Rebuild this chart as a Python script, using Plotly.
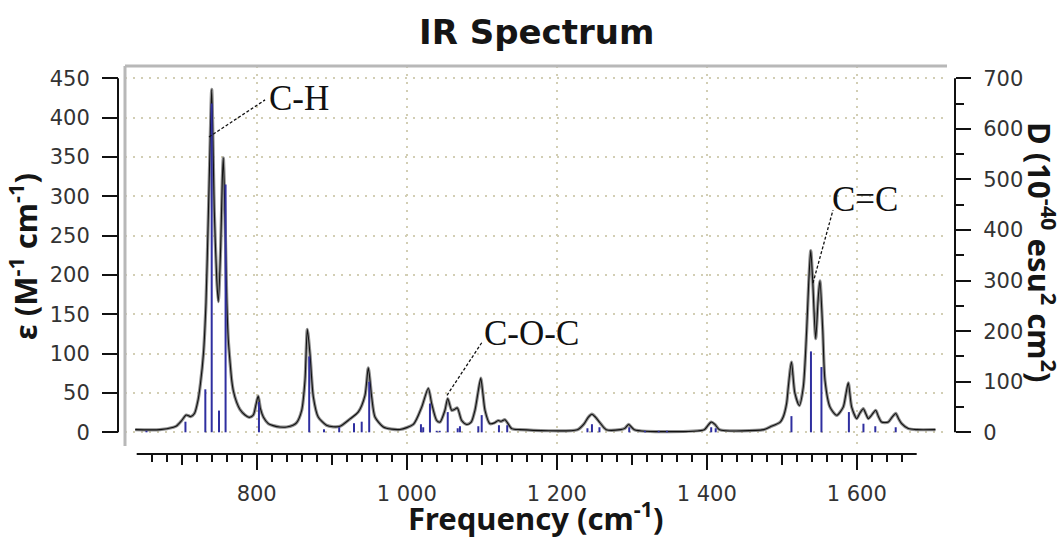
import plotly.graph_objects as go

# ---------------- data ----------------
curve_freq = [638, 671, 689, 693, 700, 706, 712, 717, 722, 725, 729, 732.4, 735.5, 737.7, 740,
              743.5, 746.7, 748.8, 752, 754.1, 755.5, 758.1, 760, 762.1, 764.4, 766.7, 768.8,
              773.3, 777.7, 784.4, 790, 795.5, 799, 802, 805, 809, 815.5, 822, 831, 840, 848.4,
              853, 860, 864.4, 867.5, 871, 875.5, 882, 893, 902, 911, 924.4, 935.5, 944.4, 948.8,
              953.3, 957.7, 968.8, 980, 991, 1008.8, 1020, 1028.8, 1033.3, 1040, 1044.4, 1051,
              1054.7, 1060, 1063.5, 1067.5, 1073.3, 1080, 1086, 1091, 1095, 1098.7, 1101.5,
              1104.4, 1111, 1117, 1122, 1126, 1131, 1140, 1151, 1227.6, 1236.7, 1242, 1247, 1252,
              1257, 1266, 1285, 1290.8, 1296, 1303.5, 1396.8, 1401, 1406, 1411, 1417, 1476,
              1484.4, 1498, 1502, 1506.5, 1508.8, 1513, 1517.5, 1523.5, 1528.8, 1533.3, 1536,
              1538.7, 1541.3, 1545.3, 1548.8, 1551, 1554.7, 1557.7, 1564.4, 1573.3, 1582, 1585.5,
              1588.8, 1593.3, 1600, 1604, 1608.8, 1612, 1615.5, 1620, 1625.3, 1629, 1633.3, 1642,
              1647, 1652, 1656, 1660, 1668.8, 1680, 1705]
curve_eps = [3.4, 3.4, 6.5, 8, 15, 22, 20, 24, 42, 62, 100, 165, 275, 360, 436,
             280, 195, 166, 236, 320, 349, 257, 172, 118, 90, 66, 53,
             38, 29, 22, 19, 22, 35, 46, 30, 19, 11, 8.5, 6.7, 6.8, 9,
             12, 28, 66, 131, 100, 45, 19.5, 9, 7, 7.6, 17, 26, 47, 82,
             45, 19.5, 6.8, 4, 3.6, 10, 32, 56, 36.5, 15, 13, 28,
             43, 28, 29, 31, 15, 10, 13, 28, 50, 69, 50,
             28, 11, 12, 15, 14, 16, 4.7, 3.4, 3.4, 11, 19, 23, 19,
             13, 3.4, 3.4, 5, 10, 3.4, 3.4, 8, 13, 10, 3.4, 3.4,
             6.8, 13, 19.5, 36.5, 57.6, 89.4, 50, 34, 57.6, 130, 190,
             231, 193, 119, 172, 192.5, 130, 66, 32, 21.6, 32, 48,
             63, 32, 17.4, 24, 30, 24, 17.4, 22, 28, 20, 13, 13,
             19, 24, 17, 11, 4.7, 3.4, 3.4]

stick_freq = [653, 705, 731.5, 740, 749.7, 758.5, 803, 870, 889.7, 910, 929.7, 940, 950,
              1019, 1022, 1031, 1040, 1044, 1054.7, 1068, 1071, 1095.5, 1100, 1123, 1134,
              1241, 1247, 1257, 1296.7, 1317.7, 1336, 1347, 1406, 1412,
              1513, 1539, 1553, 1589.6, 1609, 1624.8, 1652]
stick_D = [3, 21, 85, 650, 43, 490, 60, 150, 6, 10, 18, 21, 100,
           16, 10, 57, 3, 3, 40, 8, 12, 12, 34, 14, 14,
           8, 16, 10, 10, 3, 3, 3, 10, 8,
           32, 160, 129, 40, 17, 12, 10]

x_major_ticks = [800, 1000, 1200, 1400, 1600]
x_major_text = ["800", "1 000", "1 200", "1 400", "1 600"]
x_mid_ticks = [700, 900, 1100, 1300, 1500]
x_minor_ticks = list(range(660, 1661, 20))
y_left_ticks = list(range(0, 451, 50))
y_right_ticks = list(range(0, 701, 100))
y_right_minor = list(range(50, 651, 100))

band_labels = ["C-H", "C-O-C", "C=C"]
band_label_x = [813.7, 1100.4, 1564.4]
band_label_y = [424.9, 125.0, 295.4]
leader_x0 = [736.4, 1053.7, 1541.7]
leader_y0 = [375.4, 47.0, 189.7]
leader_x1 = [811.1, 1100.4, 1568.4]
leader_y1 = [422.5, 114.4, 282.5]

# ---------------- layout geometry ----------------
W, H = 1063, 545
ML, MR, MT, MB = 118, 108, 66, 91
PW = W - ML - MR
PH = H - MT - MB


def px_x(px):
    return (px - ML) / PW


def px_y(py):
    return (H - MB - py) / PH


XDOM = [px_x(125), px_x(947)]
YDOM = [px_y(446), 1.0]
XR = [624.4, 1720.4]
YR = [-17.4, 465.6]
RATIO = 700.0 / 450.0
Y2R = [YR[0] * RATIO, YR[1] * RATIO]

GRID = "#d2ceb4"
AX = "#111111"
TICKFONT = dict(family="DejaVu Sans", size=21, color="#333333")

# ---------------- traces ----------------
sx, sy = [], []
for f, d in zip(stick_freq, stick_D):
    sx += [f, f, None]
    sy += [0, d, None]

fig = go.Figure()
fig.add_trace(go.Scatter(x=curve_freq, y=curve_eps, mode="lines",
                         line=dict(color="#8f8f8f", width=3.2, shape="spline", smoothing=0.7),
                         hoverinfo="skip", showlegend=False))
fig.add_trace(go.Scatter(x=sx, y=sy, mode="lines", yaxis="y2",
                         line=dict(color="#2f2fa0", width=2), hoverinfo="skip",
                         showlegend=False))
fig.add_trace(go.Scatter(x=curve_freq, y=curve_eps, mode="lines",
                         line=dict(color="#111111", width=1.1, shape="spline", smoothing=0.7),
                         name="IR", showlegend=False))
# helper (invisible) so the secondary x axis with mid ticks is drawn
fig.add_trace(go.Scatter(x=[x_mid_ticks[0]], y=[0], xaxis="x2", mode="markers",
                         marker=dict(opacity=0), hoverinfo="skip", showlegend=False))

shapes = [
    dict(type="line", xref="x", yref="paper", x0=640, x1=1680, y0=0, y1=0,
         line=dict(color=AX, width=2)),
    dict(type="line", xref="paper", yref="y", x0=0, x1=0, y0=0, y1=450,
         line=dict(color=AX, width=2)),
    dict(type="line", xref="paper", yref="y2", x0=1, x1=1, y0=0, y1=700,
         line=dict(color=AX, width=2)),
    dict(type="line", xref="paper", yref="paper", x0=XDOM[0], x1=XDOM[1], y0=1, y1=1,
         line=dict(color="#b8b8b8", width=3)),
    dict(type="line", xref="paper", yref="paper", x0=XDOM[0], x1=XDOM[0], y0=YDOM[0], y1=1,
         line=dict(color="#b8b8b8", width=3)),
]
for a, b, c, d in zip(leader_x0, leader_y0, leader_x1, leader_y1):
    shapes.append(dict(type="line", xref="x", yref="y", x0=a, y0=b, x1=c, y1=d,
                       line=dict(color="#111111", width=1.3, dash="3px,2px")))

annotations = [
    dict(text="<b>IR Spectrum</b>", xref="paper", yref="paper", x=px_x(536), y=px_y(32),
         xanchor="center", yanchor="middle", showarrow=False,
         font=dict(family="DejaVu Sans", size=34, color="#151515")),
    dict(text="<b>Frequency (cm<sup>-1</sup>)</b>", xref="paper", yref="paper",
         x=px_x(536), y=px_y(516), xanchor="center", yanchor="middle", showarrow=False,
         font=dict(family="Noto Sans", size=31, color="#151515")),
    dict(text="<b>ε (M<sup>-1</sup> cm<sup>-1</sup>)</b>", xref="paper", yref="paper",
         x=px_x(23), y=px_y(257), xanchor="center", yanchor="middle", textangle=-90,
         showarrow=False, font=dict(family="Noto Sans", size=31, color="#151515")),
    dict(text="<b>D (10<sup>-40</sup> esu<sup>2</sup> cm<sup>2</sup>)</b>", xref="paper",
         yref="paper", x=px_x(1041), y=px_y(252), xanchor="center", yanchor="middle",
         textangle=90, showarrow=False,
         font=dict(family="Noto Sans", size=31, color="#151515")),
]
for t, lx, ly in zip(band_labels, band_label_x, band_label_y):
    annotations.append(dict(text=t, xref="x", yref="y", x=lx, y=ly, xanchor="left",
                            yanchor="middle", showarrow=False,
                            font=dict(family="Liberation Serif", size=35, color="#111111")))

fig.update_layout(
    width=W, height=H,
    margin=dict(l=ML, r=MR, t=MT, b=MB, pad=0),
    paper_bgcolor="white", plot_bgcolor="white",
    showlegend=False,
    xaxis=dict(domain=XDOM, range=XR, anchor="free", position=0,
               tickmode="array", tickvals=x_major_ticks, ticktext=x_major_text,
               ticks="outside", ticklen=15, tickwidth=2, tickcolor=AX,
               showline=False, zeroline=False,
               showgrid=True, gridcolor=GRID, griddash="2px,6px", gridwidth=1.6,
               tickfont=TICKFONT, ticklabelstandoff=6,
               minor=dict(tickmode="array", tickvals=x_minor_ticks, ticks="outside",
                          ticklen=7, tickwidth=2, tickcolor=AX, showgrid=False)),
    xaxis2=dict(domain=XDOM, range=XR, anchor="free", position=0, overlaying="x",
                tickmode="array", tickvals=x_mid_ticks, ticks="outside", ticklen=10,
                tickwidth=2, tickcolor=AX, showticklabels=False, showgrid=False,
                showline=False, zeroline=False),
    yaxis=dict(domain=YDOM, range=YR, anchor="free", position=0,
               tickmode="array", tickvals=y_left_ticks,
               ticks="outside", ticklen=16, tickwidth=2, tickcolor=AX,
               showline=False, zeroline=False,
               showgrid=True, gridcolor=GRID, griddash="2px,6px", gridwidth=1.6,
               tickfont=TICKFONT, ticklabelstandoff=8),
    yaxis2=dict(range=Y2R, overlaying="y", side="right", anchor="free", position=1,
                tickmode="array", tickvals=y_right_ticks,
                ticks="outside", ticklen=15, tickwidth=2, tickcolor=AX,
                showline=False, zeroline=False, showgrid=False,
                tickfont=TICKFONT, ticklabelstandoff=8,
                minor=dict(tickmode="array", tickvals=y_right_minor, ticks="outside",
                           ticklen=8, tickwidth=2, tickcolor=AX, showgrid=False)),
    shapes=shapes,
    annotations=annotations,
)

fig.write_html("out.html", config={"displayModeBar": False},
               post_script="document.body.style.margin='0px';")
